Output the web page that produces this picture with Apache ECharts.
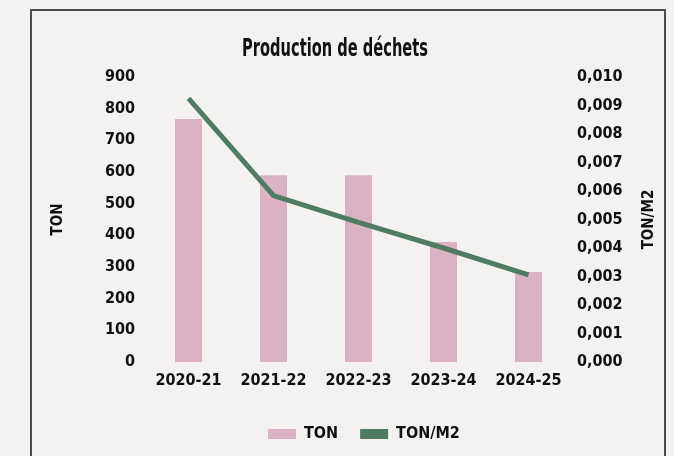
<!DOCTYPE html>
<html>
<head>
<meta charset="utf-8">
<script src="https://cdn.jsdelivr.net/npm/echarts@6/dist/echarts.min.js"></script>
<style>
  html, body { margin: 0; padding: 0; background: #f3f2f0; }
  #frame { position: absolute; left: 30px; top: 9px; width: 636px; height: 460px;
           border: 2px solid #4a4a4a; box-sizing: border-box; }
  #chart { position: absolute; left: 0; top: 0; width: 674px; height: 456px; }
</style>
</head>
<body>
<div id="frame"></div>
<div id="chart"></div>
<script>
// Waste production per season
const seasons = ['2020-21', '2021-22', '2022-23', '2023-24', '2024-25'];
const tonnes = [767, 590, 590, 379, 284];
const tonnesPerM2 = [0.00925, 0.00584, 0.0049, 0.0040, 0.00306];

const FONT = '"DejaVu Sans Condensed", "Liberation Sans Narrow", sans-serif';
const lbl = { fontFamily: FONT, fontWeight: 'bold', fontSize: 16, color: '#111' };

const chart = echarts.init(document.getElementById('chart'), null, { renderer: 'canvas' });
chart.setOption({
  backgroundColor: 'transparent',
  animation: false,
  graphic: [{
    type: 'text', x: 335, y: 49, scaleX: 0.74, scaleY: 1.15,
    style: {
      text: 'Production de déchets', align: 'center', verticalAlign: 'middle',
      fontFamily: FONT, fontWeight: 'bold', fontSize: 22, fill: '#111'
    }
  }],
  legend: {
    bottom: 9, left: 263,
    itemWidth: 28, itemHeight: 10, itemGap: 22,
    textStyle: Object.assign({ padding: [0, 0, 0, 3] }, lbl),
    data: [
      { name: 'TON', icon: 'rect' },
      { name: 'TON/M2', icon: 'rect' }
    ]
  },
  grid: { left: 146, right: 103, top: 77, bottom: 94 },
  xAxis: {
    type: 'category', data: seasons,
    axisLine: { show: false }, axisTick: { show: false },
    axisLabel: Object.assign({ margin: 11, interval: 0 }, lbl)
  },
  yAxis: [
    {
      type: 'value', min: 0, max: 900, interval: 100,
      name: 'TON', nameLocation: 'middle', nameGap: 80, nameRotate: 90,
      nameTextStyle: Object.assign({}, lbl, { fontSize: 15 }),
      splitLine: { show: false }, axisLine: { show: false }, axisTick: { show: false },
      axisLabel: Object.assign({ margin: 11 }, lbl)
    },
    {
      type: 'value', min: 0, max: 0.01, interval: 0.001,
      name: 'TON/M2', nameLocation: 'middle', nameGap: 71, nameRotate: 90,
      nameTextStyle: Object.assign({}, lbl, { fontSize: 15 }),
      splitLine: { show: false }, axisLine: { show: false }, axisTick: { show: false },
      axisLabel: Object.assign({ margin: 6, formatter: v => v.toFixed(3).replace('.', ',') }, lbl)
    }
  ],
  series: [
    {
      name: 'TON', type: 'bar', data: tonnes, yAxisIndex: 0,
      barWidth: 27, itemStyle: { color: '#dbb2c4' }
    },
    {
      name: 'TON/M2', type: 'line', data: tonnesPerM2, yAxisIndex: 1,
      symbol: 'none', lineStyle: { color: '#4e7b62', width: 5 },
      itemStyle: { color: '#4e7b62' }
    }
  ]
});
</script>
</body>
</html>
